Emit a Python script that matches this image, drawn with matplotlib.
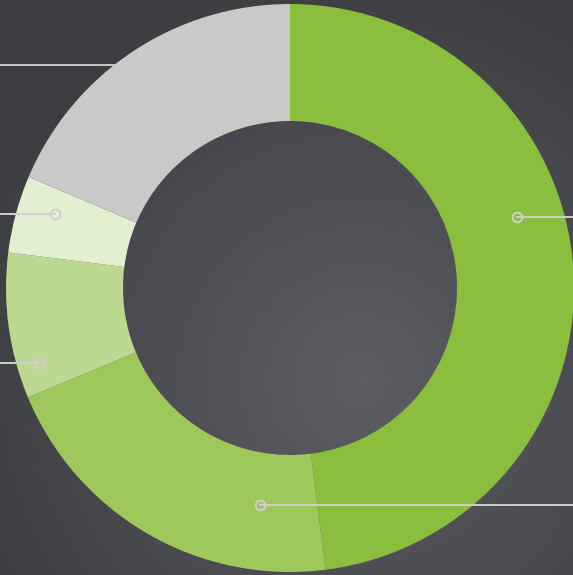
import matplotlib.pyplot as plt
import numpy as np

# share of each segment, clockwise from 12 o'clock
segments = ['A', 'B', 'C', 'D', 'E']
shares = [48.0, 20.7, 8.3, 4.4, 18.6]
colors = ['#8bbe3f', '#9fc85c', '#bdd991', '#e2efd1', '#c9c9c7']

# leader lines: (circle x, circle y, line end x), pixel coords
leaders = [(517, 217, 573), (260, 505, 573), (55, 214, 0), (40, 363, 0)]

W, H = 573, 575
fig = plt.figure(figsize=(W / 100, H / 100), dpi=100)
ax = fig.add_axes([0, 0, 1, 1])
ax.set_xlim(0, W)
ax.set_ylim(0, H)
ax.set_aspect('equal')
ax.axis('off')

# background: dark grey stone, a bit lighter towards lower right
yy, xx = np.mgrid[0:H, 0:W]
d = np.hypot(xx - 360, yy - 380) / 420.0
shade = 0.24 + 0.13 * np.clip(1 - d, 0, 1)
bg = np.dstack([shade * 0.98, shade * 1.0, shade * 1.06])
ax.imshow(np.clip(bg, 0, 1), extent=[0, W, 0, H], origin='upper', zorder=0)

# top-left line goes behind the ring
ax.plot([0, 120], [H - 65, H - 65], color='#c8c8c8', lw=1.4, zorder=1)

ax.pie(shares, colors=colors, startangle=90, counterclock=False,
       center=(290, H - 288), radius=284,
       wedgeprops=dict(width=117, edgecolor='none'), frame=True)
ax.set_xlim(0, W)
ax.set_ylim(0, H)
ax.axis('off')

for cx, cy, ex in leaders:
    ax.plot([cx, ex], [H - cy, H - cy], color='#cfcfcf', lw=1.4, zorder=5)
    ax.plot(cx, H - cy, 'o', ms=7, mfc='none', mec='#cfcfcf', mew=1.4, zorder=6)

fig.savefig('out.png', dpi=100)
